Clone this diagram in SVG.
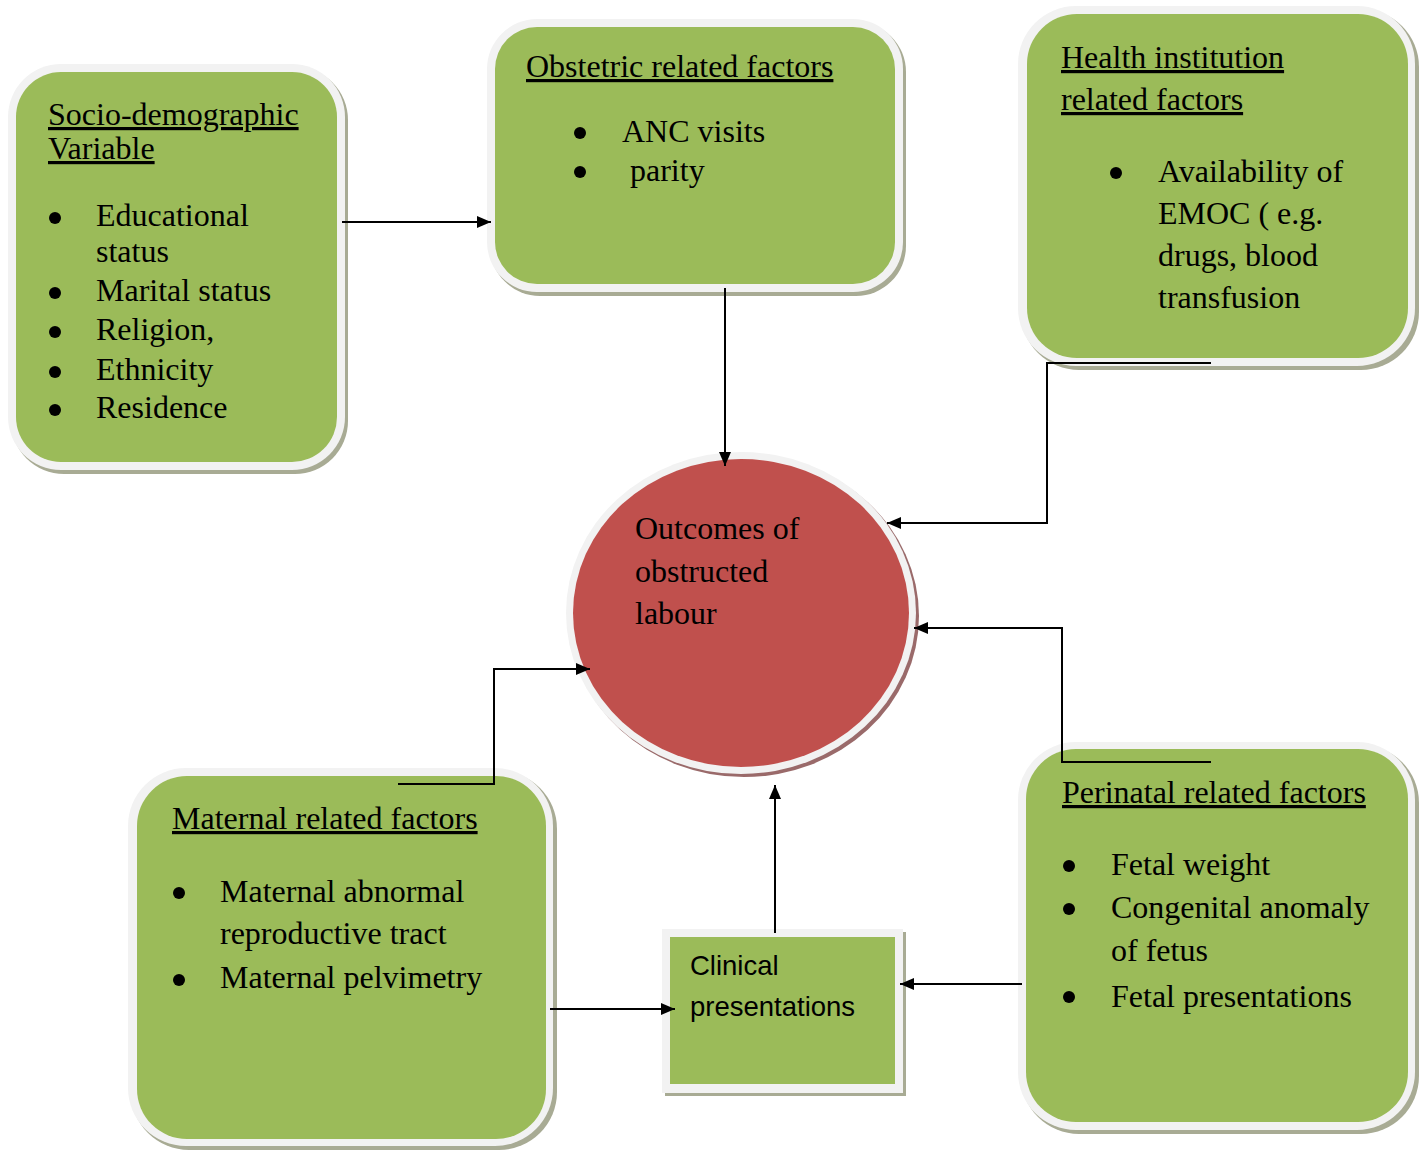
<svg xmlns="http://www.w3.org/2000/svg" width="1426" height="1150" viewBox="0 0 1426 1150">
<style>
.t{font-family:"Liberation Serif","Times New Roman",serif;font-size:32px;fill:#000}
.u{text-decoration:underline}
.s{font-family:"Liberation Sans",Arial,sans-serif;font-size:27.5px;fill:#000}
.g{fill:#9bbb59}
.rd{fill:#c0504d}
.o{fill:#f2f2f2}
.sh{fill:#a8ab94}
.shr{fill:#9a6a6a}
.c{fill:none;stroke:#000;stroke-width:2}
.b{fill:#000}
</style>
<defs>
<marker id="ah" viewBox="0 0 14 12" refX="14" refY="6" markerWidth="14" markerHeight="12" markerUnits="userSpaceOnUse" orient="auto">
<path d="M0,0 L14,6 L0,12 z" fill="#000"/>
</marker>
</defs>
<rect width="1426" height="1150" fill="#fff"/>

<g id="socio">
<rect class="sh" x="11" y="67" width="337" height="407" rx="53"/>
<rect class="o" x="8" y="64" width="337" height="406" rx="53"/>
<rect class="g" x="16" y="72" width="321" height="390" rx="45"/>
<text class="t u" x="48" y="125">Socio-demographic</text>
<text class="t u" x="48" y="159">Variable</text>
<circle class="b" cx="55" cy="218" r="6"/>
<circle class="b" cx="55" cy="293" r="6"/>
<circle class="b" cx="55" cy="332" r="6"/>
<circle class="b" cx="55" cy="372" r="6"/>
<circle class="b" cx="55" cy="410" r="6"/>
<text class="t" x="96" y="226">Educational</text>
<text class="t" x="96" y="262">status</text>
<text class="t" x="96" y="301">Marital status</text>
<text class="t" x="96" y="340">Religion,</text>
<text class="t" x="96" y="380">Ethnicity</text>
<text class="t" x="96" y="418">Residence</text>
</g>

<g id="obstetric">
<rect class="sh" x="490" y="22" width="416" height="274" rx="50"/>
<rect class="o" x="487" y="19" width="416" height="273" rx="50"/>
<rect class="g" x="495" y="27" width="400" height="257" rx="42"/>
<text class="t u" x="526" y="77">Obstetric related factors</text>
<circle class="b" cx="580" cy="133" r="6"/>
<circle class="b" cx="580" cy="172" r="6"/>
<text class="t" x="622" y="142">ANC visits</text>
<text class="t" x="630" y="181">parity</text>
</g>

<g id="health">
<rect class="sh" x="1021" y="9" width="398" height="361" rx="58"/>
<rect class="o" x="1018" y="6" width="397" height="360" rx="58"/>
<rect class="g" x="1027" y="14" width="381" height="344" rx="50"/>
<text class="t u" x="1061" y="68">Health institution</text>
<text class="t u" x="1061" y="110">related factors</text>
<circle class="b" cx="1116" cy="173" r="6"/>
<text class="t" x="1158" y="182">Availability of</text>
<text class="t" x="1158" y="224">EMOC ( e.g.</text>
<text class="t" x="1158" y="266">drugs, blood</text>
<text class="t" x="1158" y="308">transfusion</text>
</g>

<g id="outcome">
<ellipse class="shr" cx="744" cy="616" rx="175" ry="161"/>
<ellipse class="o" cx="741" cy="613" rx="175" ry="161"/>
<ellipse class="rd" cx="741" cy="613" rx="168" ry="154"/>
<text class="t" x="635" y="539">Outcomes of</text>
<text class="t" x="635" y="582">obstructed</text>
<text class="t" x="635" y="624">labour</text>
</g>

<g id="maternal">
<rect class="sh" x="131" y="771" width="426" height="379" rx="58"/>
<rect class="o" x="128" y="768" width="425" height="378" rx="58"/>
<rect class="g" x="137" y="776" width="409" height="363" rx="50"/>
<text class="t u" x="172" y="829">Maternal related factors</text>
<circle class="b" cx="179" cy="893" r="6"/>
<circle class="b" cx="179" cy="980" r="6"/>
<text class="t" x="220" y="902">Maternal abnormal</text>
<text class="t" x="220" y="944">reproductive tract</text>
<text class="t" x="220" y="988">Maternal pelvimetry</text>
</g>

<g id="clinical">
<rect class="sh" x="665" y="932" width="241" height="164"/>
<rect class="o" x="662" y="929" width="241" height="164"/>
<rect class="g" x="670" y="937" width="225" height="147"/>
<text class="s" x="690" y="975">Clinical</text>
<text class="s" x="690" y="1016">presentations</text>
</g>

<g id="perinatal">
<rect class="sh" x="1021" y="745" width="398" height="389" rx="58"/>
<rect class="o" x="1018" y="742" width="397" height="388" rx="58"/>
<rect class="g" x="1026" y="749" width="382" height="373" rx="50"/>
<text class="t u" x="1062" y="803">Perinatal related factors</text>
<circle class="b" cx="1069" cy="866" r="6"/>
<circle class="b" cx="1069" cy="909" r="6"/>
<circle class="b" cx="1069" cy="997" r="6"/>
<text class="t" x="1111" y="875">Fetal weight</text>
<text class="t" x="1111" y="918">Congenital anomaly</text>
<text class="t" x="1111" y="961">of fetus</text>
<text class="t" x="1111" y="1007">Fetal presentations</text>
</g>

<g id="connectors">
<path class="c" d="M342,222 H491" marker-end="url(#ah)"/>
<path class="c" d="M725,288 V466" marker-end="url(#ah)"/>
<path class="c" d="M1211,363 H1047 V523 H887" marker-end="url(#ah)"/>
<path class="c" d="M1211,762 H1062 V628 H914" marker-end="url(#ah)"/>
<path class="c" d="M398,784 H494 V669 H590" marker-end="url(#ah)"/>
<path class="c" d="M550,1009 H675" marker-end="url(#ah)"/>
<path class="c" d="M1022,984 H900" marker-end="url(#ah)"/>
<path class="c" d="M775,933 V785" marker-end="url(#ah)"/>
</g>
</svg>
